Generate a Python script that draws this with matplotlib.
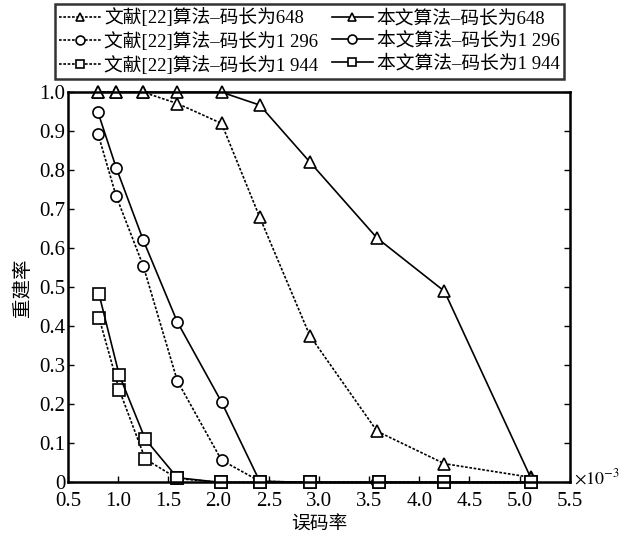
import numpy as np
import matplotlib
matplotlib.use("Agg")
import matplotlib.pyplot as plt

plt.rcParams['font.family'] = ['Liberation Serif', 'Noto Sans CJK SC']
plt.rcParams['mathtext.fontset'] = 'stix'
plt.rcParams['font.size'] = 14

# BER values (x1e-3)
ber = [0.80, 0.98, 1.25, 1.59, 2.03, 2.41, 2.91, 3.58, 4.25, 5.11]
ber_sq = [0.81, 1.01, 1.27, 1.59, 2.02, 2.41, 2.91, 3.60, 4.25, 5.11]

ref_648 = [1.0, 1.0, 1.0, 0.971, 0.920, 0.680, 0.376, 0.131, 0.048, 0.013]
ours_648 = [1.0, 1.0, 1.0, 1.0, 1.0, 0.967, 0.821, 0.626, 0.490, 0.012]
ref_1296 = [0.893, 0.734, 0.555, 0.260, 0.057, 0.003, 0.0, 0.0, 0.0, 0.0]
ours_1296 = [0.948, 0.807, 0.621, 0.411, 0.206, 0.003, 0.0, 0.0, 0.0, 0.0]
ref_1944 = [0.422, 0.238, 0.060, 0.010, 0.0, 0.0, 0.0, 0.0, 0.0, 0.0]
ours_1944 = [0.482, 0.276, 0.111, 0.012, 0.0, 0.0, 0.0, 0.0, 0.0, 0.0]

labels_ref = ['文献[22]算法–码长为648', '文献[22]算法–码长为1 296', '文献[22]算法–码长为1 944']
labels_ours = ['本文算法–码长为648', '本文算法–码长为1 296', '本文算法–码长为1 944']

fig = plt.figure(figsize=(6.29, 5.36), dpi=100)
ax = fig.add_axes([0.108, 0.100, 0.798, 0.728])

style = dict(color='black', markerfacecolor='white', markeredgecolor='black',
             markersize=8, linewidth=1.2, markeredgewidth=1.2, clip_on=False)

h = []
for xs, ys, m, lab in [(ber, ref_648, '^', labels_ref[0]),
                       (ber, ref_1296, 'o', labels_ref[1]),
                       (ber_sq, ref_1944, 's', labels_ref[2])]:
    h += ax.plot(xs, ys, linestyle=(0, (1.6, 1.0)), marker=m, label=lab, **style)
for xs, ys, m, lab in [(ber, ours_648, '^', labels_ours[0]),
                       (ber, ours_1296, 'o', labels_ours[1]),
                       (ber_sq, ours_1944, 's', labels_ours[2])]:
    h += ax.plot(xs, ys, '-', marker=m, label=lab, **style)

ax.set_xlim(0.5, 5.5)
ax.set_ylim(0, 1.0)
ax.set_xticks(np.arange(0.5, 5.51, 0.5))
ax.set_xticklabels([f'{v:.1f}' for v in np.arange(0.5, 5.51, 0.5)])
ax.set_yticks(np.arange(0, 1.01, 0.1))
ax.set_yticklabels(['0'] + [f'{v:.1f}' for v in np.arange(0.1, 1.01, 0.1)])
ax.tick_params(direction='in', length=4, width=1, right=True, top=False, labelsize=15)
ax.tick_params(axis='y', pad=2)
ax.tick_params(axis='x', pad=7)
for s in ax.spines.values():
    s.set_linewidth(1.8)

ax.set_xlabel('误码率', fontsize=13.5, labelpad=4)
ax.set_ylabel('重建率', fontsize=14, labelpad=5)
ax.text(1.008, 0.012, r'$\times 10^{-3}$', transform=ax.transAxes, fontsize=13,
        ha='left', va='center')

leg = fig.legend(handles=h, ncol=2, loc='upper center', bbox_to_anchor=(0.492, 0.993),
                 frameon=True, fancybox=False, edgecolor='black', handlelength=2.2,
                 handletextpad=0.2, columnspacing=0.7, labelspacing=0.25,
                 borderpad=0.25, borderaxespad=0, fontsize=13.5, markerscale=0.8)
leg.get_frame().set_linewidth(1.8)

fig.savefig('out.png', dpi=100)
